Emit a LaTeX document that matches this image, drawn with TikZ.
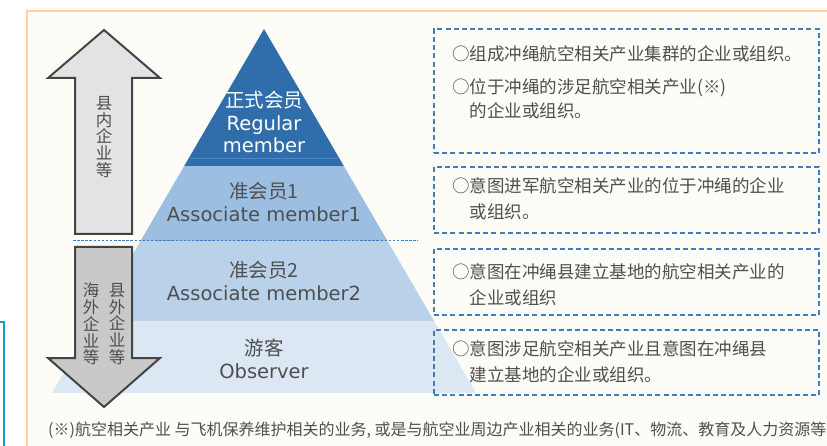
\documentclass[tikz,border=0pt]{standalone}
\usepackage{fontspec}
\setmainfont{Noto Sans CJK SC}
\newfontfamily\latinfont{DejaVu Sans}
\usetikzlibrary{positioning,calc}
\definecolor{ink}{HTML}{4F4F4F}
\definecolor{paper}{HTML}{FDFCF7}
\definecolor{frameorange}{HTML}{FBD3A6}
\definecolor{edgeblue}{HTML}{1A98D5}
\definecolor{tierdark}{HTML}{2F6EAB}
\definecolor{tierseam}{HTML}{4D88C2}
\definecolor{tierone}{HTML}{9CBEE0}
\definecolor{tiertwo}{HTML}{B9D1E9}
\definecolor{tierobs}{HTML}{DBE7F3}
\definecolor{noteblue}{HTML}{3E7DC2}
\definecolor{uparrow}{HTML}{E1E3E4}
\definecolor{downarrow}{HTML}{C9C9C9}
\definecolor{arrowline}{HTML}{444444}
\tikzset{
  frame/.style={draw=frameorange,line width=2pt,fill=paper},
  band/.style={fill=#1},
  tierlabel/.style={align=center,inner sep=0pt,font=\fontsize{19.5}{22.5}\selectfont,text=#1},
  notebox/.style={draw=noteblue,dash pattern=on 5pt off 3.2pt,line width=1.6pt,minimum width=385pt,inner sep=0pt},
  notetext/.style={anchor=west,align=left,inner sep=0pt,font=\fontsize{17.5}{26}\selectfont,text=ink},
  vtext/.style={align=center,inner sep=0pt,font=\fontsize{16.5}{16.8}\selectfont,text=ink},
  bigarrow/.style={draw=arrowline,line width=2pt,fill=#1,line join=miter},
  divider/.style={draw=noteblue,line width=1pt,dash pattern=on 2.5pt off 1.6pt}
}
\begin{document}
\begin{tikzpicture}[x=1pt,y=-1pt]
  \useasboundingbox (0,0) rectangle (827,446);
  \fill[white] (0,0) rectangle (827,446);
  \draw[frame] (27,11) rectangle (850,470);
  \draw[edgeblue,line width=2pt] (-5,322) -- (4,322) -- (4,460);

  % pyramid tiers
  \coordinate (apex) at (264,29);
  \coordinate (baseL) at (52,393);
  \coordinate (baseR) at (476,393);
  \begin{scope}
    \clip (apex) -- (baseR) -- (baseL) -- cycle;
    \fill[band=tierdark] (40,20) rectangle (490,166);
    \fill[band=tierone] (40,166) rectangle (490,241);
    \fill[band=tiertwo] (40,241) rectangle (490,321);
    \fill[band=tierobs] (40,321) rectangle (490,393);
    \draw[tierseam,line width=1pt] (40,159) -- (490,159);
  \end{scope}
  \node[tierlabel=white] (regular) at (264,122) {正式会员\\{\latinfont Regular}\\{\latinfont member}};
  \node[tierlabel=ink] (assoc1) at (264,202) {准会员1\\{\latinfont Associate member1}};
  \node[tierlabel=ink] (assoc2) at (264,281) {准会员2\\{\latinfont Associate member2}};
  \node[tierlabel=ink] (observer) at (264,359) {游客\\{\latinfont Observer}};

  % arrows
  \draw[bigarrow=uparrow] (104,30) -- (160,78) -- (132,78) -- (132,234) -- (75,234) -- (75,78) -- (48,78) -- cycle;
  \draw[bigarrow=downarrow] (75,247) -- (132,247) -- (132,358) -- (160,358) -- (104,407) -- (48,358) -- (75,358) -- cycle;
  \node[vtext] (inland) at (104,137) {县\\内\\企\\业\\等};
  \node[vtext] (overseas) at (91,324) {海\\外\\企\\业\\等};
  \node[vtext] (outside) at (117,324) {县\\外\\企\\业\\等};
  \coordinate (divL) at (73,241);
  \coordinate (divR) at (418,241);
  \draw[divider] (divL) -- (divR);

  % notes
  \node[notebox,minimum height=124pt] (note1) at (626.5,91) {};
  \node[notebox,minimum height=66pt] (note2) at (626.5,200) {};
  \node[notebox,minimum height=66pt] (note3) at (626.5,282) {};
  \node[notebox,minimum height=65pt] (note4) at (626.5,362.5) {};
  \node[notetext] (note1a) at (452,54) {○组成冲绳航空相关产业集群的企业或组织。};
  \node[notetext,font=\fontsize{17.5}{24}\selectfont] (note1b) at (452,98.5) {○位于冲绳的涉足航空相关产业(※)\\\hspace*{1em}的企业或组织。};
  \node[notetext] (note2a) at (452,199) {○意图进军航空相关产业的位于冲绳的企业\\\hspace*{1em}或组织。};
  \node[notetext] (note3a) at (452,285) {○意图在冲绳县建立基地的航空相关产业的\\\hspace*{1em}企业或组织};
  \node[notetext] (note4a) at (452,361.5) {○意图涉足航空相关产业且意图在冲绳县\\\hspace*{1em}建立基地的企业或组织。};

  \node[anchor=west,inner sep=0pt,font=\fontsize{16}{18}\selectfont,text=ink] (footnote) at (48,430) {(※)航空相关产业 与飞机保养维护相关的业务, 或是与航空业周边产业相关的业务(IT、物流、教育及人力资源等};
\end{tikzpicture}
\end{document}
